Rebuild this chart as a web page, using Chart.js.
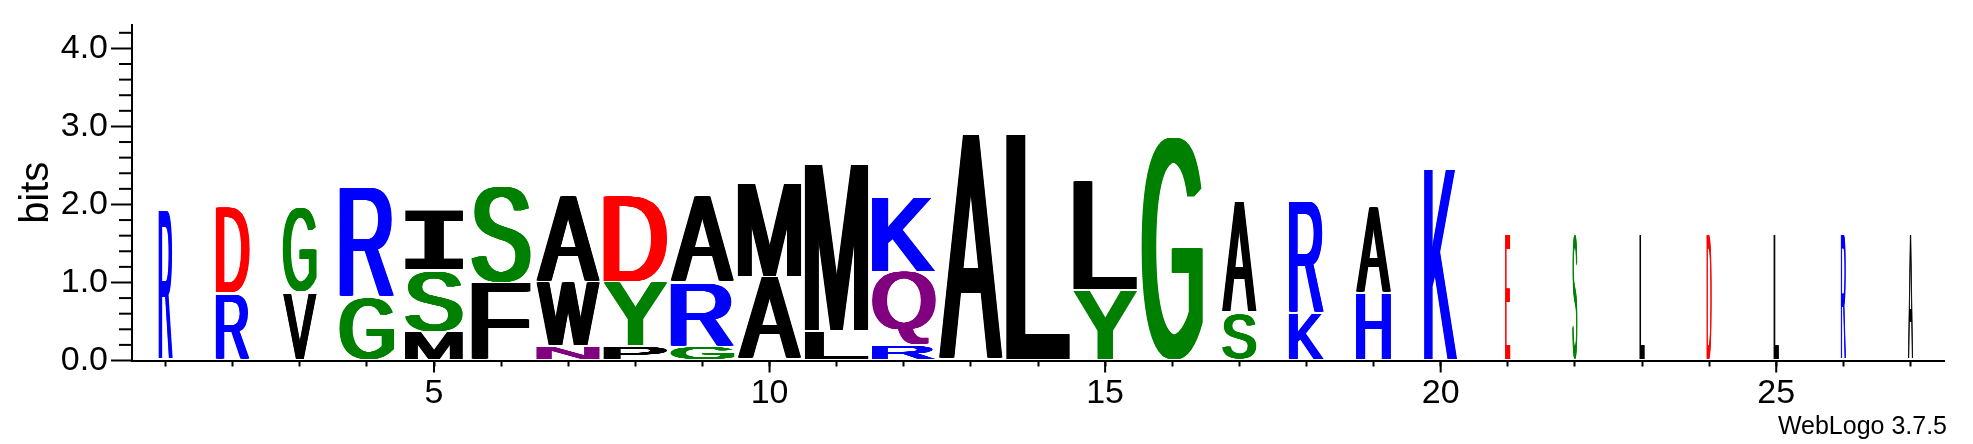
<!DOCTYPE html>
<html>
<head>
<meta charset="utf-8">
<title>WebLogo</title>
<script src="https://cdn.jsdelivr.net/npm/chart.js"></script>
<style>
  body { margin: 0; background: #fff; }
  canvas { display: block; }
</style>
</head>
<body>
<canvas id="logo" width="1973" height="444"></canvas>
<script>
// columns of the logo
const positions = [1, 2, 3, 4, 5, 6, 7, 8, 9, 10, 11, 12, 13, 14, 15, 16, 17, 18, 19, 20, 21, 22, 23, 24, 25, 26, 27];
// letters per column, bottom -> top
const stackLetters = [
    ['R'], ['R', 'D'], ['V', 'G'], ['G', 'R'], ['M', 'S', 'I'], ['F', 'S'],
    ['N', 'W', 'A'], ['P', 'Y', 'D'], ['G', 'R', 'A'], ['A', 'M'], ['L', 'M'], ['R', 'Q', 'K'],
    ['A'], ['L'], ['Y', 'L'], ['G'], ['S', 'A'], ['K', 'R'], ['H', 'A'], ['K'],
    ['E'], ['S'], ['L'], ['D'], ['L'], ['R'], ['A']
];
// height of each letter in bits, same order
const stackBits = [
    [1.93], [0.86, 1.11], [0.87, 1.09], [0.80, 1.41], [0.37, 0.79, 0.78], [0.99, 1.25],
    [0.18, 0.82, 1.11], [0.18, 0.82, 1.11], [0.18, 0.82, 1.11], [1.07, 1.21], [0.38, 2.14], [0.19, 0.95, 0.95],
    [2.91], [2.91], [0.90, 1.40], [2.87], [0.61, 1.43], [0.60, 1.44], [0.86, 1.11], [2.46],
    [1.62], [1.62], [1.62], [1.62], [1.62], [1.62], [1.62]
];
// share of sequences present in each column (letter width)
const columnWeight = [
    0.22, 0.53, 0.53, 0.86, 0.91, 0.93,
    1, 1, 1, 1, 1, 1,
    1, 1, 1, 0.96, 0.54, 0.55, 0.55, 0.52,
    0.08, 0.08, 0.08, 0.08, 0.08, 0.08, 0.08
];
const yTickValues = [0, 1, 2, 3, 4];
const yMax = 4.3;
const creditText = 'WebLogo 3.7.5';

Chart.defaults.font.family = '"Liberation Sans", Arial, sans-serif';
Chart.defaults.color = '#000';

// chemistry colour scheme
function colorOf(letter) {
    if ('GSTYC'.includes(letter)) return '#008000';
    if ('NQ'.includes(letter)) return '#800080';
    if ('KRH'.includes(letter)) return '#0000ff';
    if ('DE'.includes(letter)) return '#ff0000';
    return '#000000';
}

// stretch one glyph so its ink fills the box; stems get widened sideways
function drawGlyph(ctx, letter, x, y, w, h) {
    const serif = letter === 'I';
    ctx.save();
    ctx.font = serif ? 'bold 200px "DejaVu Sans Mono"' : '200px "Liberation Sans"';
    ctx.textAlign = 'left';
    ctx.textBaseline = 'alphabetic';
    const m = ctx.measureText(letter);
    const inkW = m.actualBoundingBoxLeft + m.actualBoundingBoxRight;
    const inkH = m.actualBoundingBoxAscent + m.actualBoundingBoxDescent;
    const thick = serif ? 0 : w * 0.11;
    const steps = Math.max(1, Math.ceil(thick / 0.5));
    const sx = (w - thick) / inkW;
    const sy = h / inkH;
    ctx.fillStyle = colorOf(letter);
    for (let s = 0; s <= steps; s++) {
        ctx.save();
        ctx.translate(x + thick * s / steps, y);
        ctx.scale(sx, sy);
        ctx.fillText(letter, m.actualBoundingBoxLeft, m.actualBoundingBoxAscent);
        ctx.restore();
    }
    ctx.restore();
}

const levels = Math.max(...stackBits.map(s => s.length));
const datasets = [];
for (let k = 0; k < levels; k++) {
    datasets.push({
        label: 'level ' + (k + 1),
        data: stackBits.map(s => s[k] || 0),
        backgroundColor: 'rgba(0,0,0,0)',
        borderWidth: 0
    });
}

const logoPlugin = {
    id: 'logoLetters',
    afterDatasetsDraw(chart) {
        const ctx = chart.ctx;
        const xs = chart.scales.x;
        const unit = xs.getPixelForValue(1) - xs.getPixelForValue(0);
        chart.data.datasets.forEach((ds, k) => {
            chart.getDatasetMeta(k).data.forEach((bar, i) => {
                const letter = stackLetters[i][k];
                if (!letter) return;
                const w = unit * 0.95 * columnWeight[i];
                const top = bar.y + 0.8;
                const bottom = bar.base - 1;
                drawGlyph(ctx, letter, bar.x - w / 2, top, w, bottom - top);
            });
        });
    },
    afterDraw(chart) {
        const ctx = chart.ctx;
        const ys = chart.scales.y;
        const xs = chart.scales.x;
        const area = chart.chartArea;
        ctx.save();
        ctx.strokeStyle = '#000';
        ctx.lineWidth = 2;
        // minor ticks on the bits axis
        for (let n = 1; n * 0.2 <= yMax; n++) {
            if (n % 5 === 0) continue;
            const py = ys.getPixelForValue(n * 0.2);
            ctx.beginPath();
            ctx.moveTo(area.left - 13, py);
            ctx.lineTo(area.left, py);
            ctx.stroke();
        }
        // longer ticks at labelled positions
        positions.forEach((p, i) => {
            if (p % 5 !== 0) return;
            const px = xs.getPixelForValue(i);
            ctx.beginPath();
            ctx.moveTo(px, area.bottom);
            ctx.lineTo(px, area.bottom + 12);
            ctx.stroke();
        });
        ctx.fillStyle = '#000';
        ctx.font = '25px "Liberation Sans"';
        ctx.textAlign = 'right';
        ctx.textBaseline = 'alphabetic';
        ctx.fillText(creditText, 1947, 434);
        ctx.restore();
    }
};

new Chart(document.getElementById('logo'), {
    type: 'bar',
    data: {
        labels: positions.map(String),
        datasets: datasets
    },
    options: {
        responsive: false,
        devicePixelRatio: 1,
        animation: false,
        events: [],
        layout: { padding: { left: 0, top: 25, right: 29, bottom: 0 } },
        plugins: { legend: { display: false }, tooltip: { enabled: false } },
        scales: {
            x: {
                stacked: true,
                grid: { offset: false, drawOnChartArea: false, tickLength: 6, tickWidth: 2, tickColor: '#000' },
                border: { display: true, color: '#000', width: 2 },
                ticks: {
                    autoSkip: false,
                    maxRotation: 0,
                    padding: 7,
                    font: { size: 34 },
                    callback: (v, i) => (positions[i] % 5 === 0 ? String(positions[i]) : '')
                },
                afterFit: s => { s.height = 83.5; }
            },
            y: {
                stacked: true,
                min: 0,
                max: yMax,
                afterBuildTicks: s => { s.ticks = yTickValues.map(v => ({ value: v })); },
                grid: { drawOnChartArea: false, tickLength: 21, tickWidth: 2, tickColor: '#000' },
                border: { display: true, color: '#000', width: 2 },
                ticks: {
                    padding: 3,
                    font: { size: 34 },
                    callback: v => v.toFixed(1)
                },
                title: { display: true, text: 'bits', font: { size: 40 }, padding: { top: 13, bottom: 0 } },
                afterFit: s => { s.width = 132; }
            }
        }
    },
    plugins: [logoPlugin]
});
</script>
</body>
</html>
